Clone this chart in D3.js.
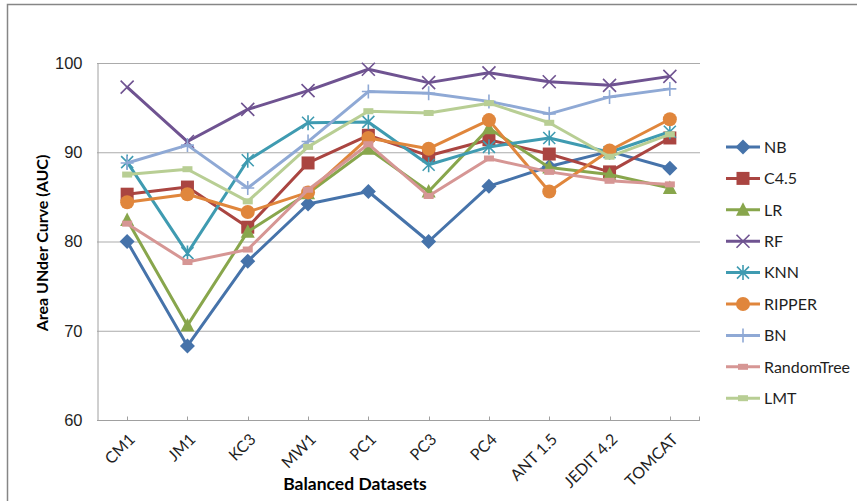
<!DOCTYPE html>
<html>
<head>
<meta charset="utf-8">
<script src="https://cdn.jsdelivr.net/npm/d3@7"></script>
<style>
  html, body { margin: 0; padding: 0; background: #fff; }
  svg { display: block; font-family: Lato, "Liberation Sans", sans-serif; }
</style>
</head>
<body>
<svg id="chart" width="857" height="501"></svg>
<script>
// AUC (%) of nine classifiers on ten balanced defect datasets
const datasets = ["CM1", "JM1", "KC3", "MW1", "PC1", "PC3", "PC4", "ANT 1.5", "JEDIT 4.2", "TOMCAT"];
const yTicks = [60, 70, 80, 90, 100];

const nb         = [80.0, 68.3, 77.8, 84.2, 85.6, 80.0, 86.2, 88.4, 90.1, 88.2];
const c45        = [85.3, 86.1, 81.6, 88.8, 91.9, 89.6, 91.4, 89.8, 87.8, 91.6];
const lr         = [82.4, 70.6, 81.1, 85.4, 90.4, 85.6, 92.7, 88.3, 87.5, 86.0];
const rf         = [97.3, 91.2, 94.8, 96.9, 99.3, 97.8, 98.9, 97.9, 97.5, 98.5];
const knn        = [88.9, 78.7, 89.1, 93.3, 93.4, 88.6, 90.6, 91.6, 90.0, 92.3];
const ripper     = [84.4, 85.3, 83.3, 85.5, 91.6, 90.4, 93.6, 85.6, 90.2, 93.7];
const bn         = [88.8, 90.8, 86.0, 91.2, 96.8, 96.6, 95.7, 94.3, 96.2, 97.1];
const randomTree = [82.0, 77.7, 79.1, 85.8, 90.9, 85.1, 89.3, 87.8, 86.8, 86.4];
const lmt        = [87.5, 88.1, 84.5, 90.6, 94.6, 94.4, 95.5, 93.3, 89.5, 92.0];

const series = [
  { name: "NB",         values: nb,         color: "#4673AA", marker: "diamond" },
  { name: "C4.5",       values: c45,        color: "#AA4541", marker: "square" },
  { name: "LR",         values: lr,         color: "#88A64C", marker: "triangle" },
  { name: "RF",         values: rf,         color: "#6F5391", marker: "x" },
  { name: "KNN",        values: knn,        color: "#3F9BB1", marker: "asterisk" },
  { name: "RIPPER",     values: ripper,     color: "#E0863C", marker: "circle" },
  { name: "BN",         values: bn,         color: "#8FA9D5", marker: "plus" },
  { name: "RandomTree", values: randomTree, color: "#D69694", marker: "dash" },
  { name: "LMT",        values: lmt,        color: "#B8CE94", marker: "dash" }
];

const svg = d3.select("#chart");
const plot = { left: 97, right: 700, top: 63, bottom: 420 };
const textColor = "#1f1f1f";

// chart frame
svg.append("path")
  .attr("d", "M7.5,501 V4.5 H857")
  .attr("fill", "none").attr("stroke", "#868686").attr("stroke-width", 1.5);

const x = d3.scaleBand().domain(datasets).range([plot.left, plot.right]);
const cx = d => x(d) + x.bandwidth() / 2;
const y = d3.scaleLinear().domain([60, 100]).range([plot.bottom, plot.top]);

// horizontal gridlines
svg.append("g").selectAll("line")
  .data(yTicks.filter(t => t > 60))
  .join("line")
  .attr("x1", plot.left).attr("x2", plot.right)
  .attr("y1", d => y(d) + 0.5).attr("y2", d => y(d) + 0.5)
  .attr("stroke", "#ABABAB").attr("stroke-width", 1);

// y axis
const yAxis = svg.append("g")
  .attr("transform", `translate(${plot.left + 0.5},0)`)
  .call(d3.axisLeft(y).tickValues(yTicks).tickSize(0).tickPadding(15));
yAxis.select(".domain").attr("stroke", "#A0A0A0");
yAxis.selectAll("text").attr("font-size", 16.5).attr("fill", textColor);

// x axis with inner ticks at each dataset
const xAxis = svg.append("g")
  .attr("transform", `translate(0,${plot.bottom + 0.5})`);
xAxis.append("line")
  .attr("x1", plot.left).attr("x2", plot.right)
  .attr("stroke", "#A0A0A0");
xAxis.selectAll("line.tick")
  .data(datasets)
  .join("line")
  .attr("class", "tick")
  .attr("x1", d => Math.round(cx(d)) + 0.5).attr("x2", d => Math.round(cx(d)) + 0.5)
  .attr("y1", 0).attr("y2", -4)
  .attr("stroke", "#A0A0A0");
xAxis.append("line")
  .attr("x1", plot.right - 0.5).attr("x2", plot.right - 0.5)
  .attr("y1", 0).attr("y2", -4).attr("stroke", "#A0A0A0");
xAxis.selectAll("text")
  .data(datasets)
  .join("text")
  .attr("text-anchor", "end")
  .attr("font-size", 16)
  .attr("fill", textColor)
  .attr("transform", d => `translate(${cx(d) + 9},${20}) rotate(-45)`)
  .text(d => d);

// axis titles
svg.append("text")
  .attr("x", 355).attr("y", 490)
  .attr("text-anchor", "middle")
  .attr("font-size", 17.5).attr("font-weight", "bold").attr("fill", "#000")
  .text("Balanced Datasets");
svg.append("text")
  .attr("transform", "translate(48,243) rotate(-90)")
  .attr("text-anchor", "middle")
  .attr("font-size", 16).attr("font-weight", "bold").attr("fill", "#000")
  .text("Area UNder Curve (AUC)");

// marker drawing
function drawMarker(g, type, color) {
  switch (type) {
    case "diamond":
      g.append("path").attr("d", "M0,-7.5 L7.5,0 L0,7.5 L-7.5,0 Z").attr("fill", color);
      break;
    case "square":
      g.append("rect").attr("x", -6.5).attr("y", -6.5).attr("width", 13).attr("height", 13).attr("fill", color);
      break;
    case "triangle":
      g.append("path").attr("d", "M0,-7.5 L7,6 L-7,6 Z").attr("fill", color);
      break;
    case "circle":
      g.append("circle").attr("r", 7).attr("fill", color);
      break;
    case "x":
      g.append("path").attr("d", "M-6.5,-6.5 L6.5,6.5 M-6.5,6.5 L6.5,-6.5")
        .attr("stroke", color).attr("stroke-width", 1.6).attr("fill", "none");
      break;
    case "asterisk":
      g.append("path").attr("d", "M-6,-6 L6,6 M-6,6 L6,-6 M0,-7.5 L0,7.5")
        .attr("stroke", color).attr("stroke-width", 1.6).attr("fill", "none");
      break;
    case "plus":
      g.append("path").attr("d", "M-6.5,0 L6.5,0 M0,-7 L0,7")
        .attr("stroke", color).attr("stroke-width", 1.6).attr("fill", "none");
      break;
    case "dash":
      g.append("rect").attr("x", -5).attr("y", -3).attr("width", 10).attr("height", 6).attr("fill", color);
      break;
  }
}

// lines and markers
const line = d3.line().x((d, i) => cx(datasets[i])).y(d => y(d));
const seriesG = svg.append("g");
series.forEach(s => {
  const g = seriesG.append("g");
  g.append("path")
    .attr("d", line(s.values))
    .attr("fill", "none")
    .attr("stroke", s.color)
    .attr("stroke-width", 3)
    .attr("stroke-linejoin", "round");
  s.values.forEach((v, i) => {
    const m = g.append("g").attr("transform", `translate(${cx(datasets[i])},${y(v)})`);
    drawMarker(m, s.marker, s.color);
  });
});

// legend
const legend = svg.append("g");
series.forEach((s, i) => {
  const ly = 147 + i * 31.4;
  const g = legend.append("g").attr("transform", `translate(0,${ly})`);
  g.append("line").attr("x1", 726).attr("x2", 760).attr("y1", 0).attr("y2", 0)
    .attr("stroke", s.color).attr("stroke-width", 3);
  const m = g.append("g").attr("transform", "translate(743,0)");
  drawMarker(m, s.marker, s.color);
  g.append("text").attr("x", 764).attr("y", 0).attr("dy", "0.36em")
    .attr("font-size", 16).attr("fill", textColor)
    .text(s.name);
});
</script>
</body>
</html>
